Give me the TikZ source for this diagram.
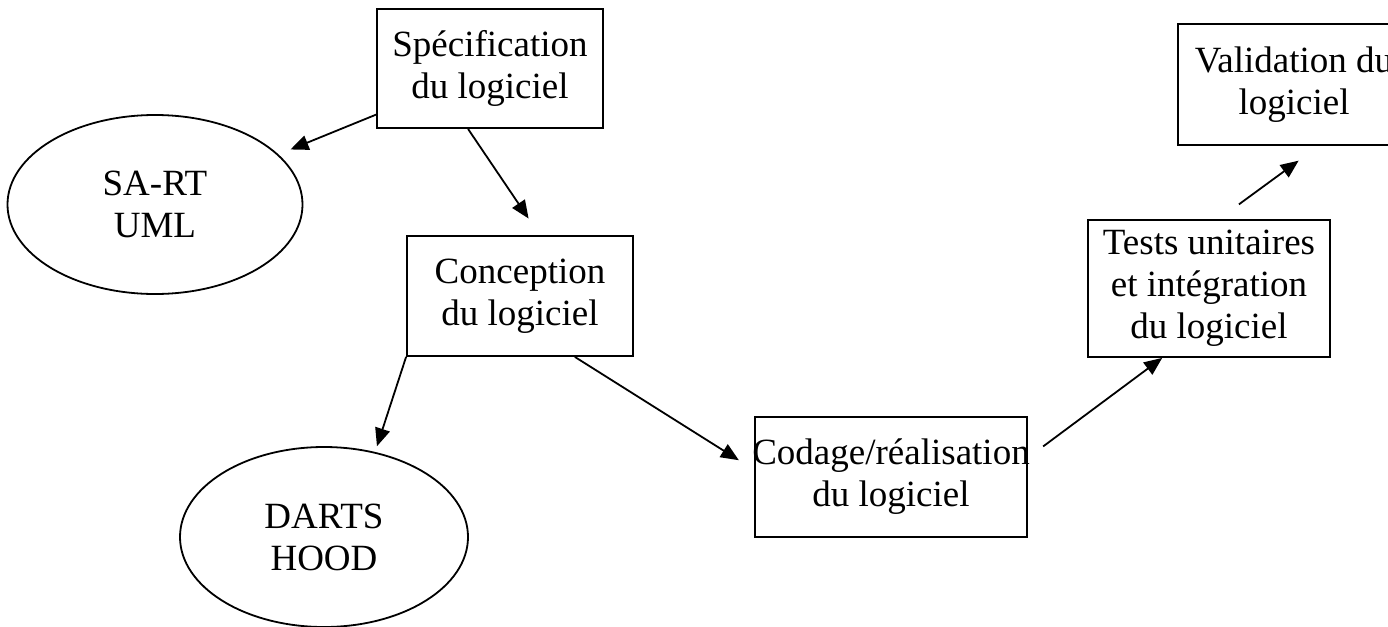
\documentclass[tikz,border=0pt]{standalone}
\usepackage{fontspec}
\setmainfont{Liberation Serif}
\usetikzlibrary{shapes.geometric,arrows.meta}

\begin{document}
\begin{tikzpicture}[x=1pt, y=-1pt, line width=1.8pt,
    every node/.style={font=\fontsize{37}{42}\selectfont, inner sep=0pt, align=center},
    box/.style={draw, rectangle},
    oval/.style={draw, ellipse},
    arr/.style={-{Triangle[length=18pt,width=15pt]}}]
    % Page frame
    \useasboundingbox (0,0) rectangle (1388,626);
    \clip (0,0) rectangle (1388,626);

    % Stages of the cycle
    \node[box, minimum width=226pt, minimum height=119pt] (spec) at (490,68.5) {Spécification\\du logiciel};
    \node[box, minimum width=226pt, minimum height=120pt] (concep) at (520,296) {Conception\\du logiciel};
    \node[box, minimum width=272pt, minimum height=120pt, inner xsep=-3pt] (codage) at (891,477) {Codage/réalisation\\du logiciel};
    \node[box, minimum width=242pt, minimum height=137pt] (tests) at (1209,288.5) {Tests unitaires\\et intégration\\du logiciel};
    \node[box, minimum width=232pt, minimum height=121pt] (valid) at (1294,84.5) {Validation du\\logiciel};

    % Methods
    \node[oval, minimum width=295pt, minimum height=179pt] (sart) at (155,204.5) {SA-RT\\UML};
    \node[oval, minimum width=288pt, minimum height=180pt] (dart) at (324,537) {DARTS\\HOOD};

    % Arrows: from/to/gap at start/gap at end
    \foreach \a/\b/\s/\e in {spec/sart/0pt/13pt, spec.250/concep.72/0pt/20pt,
        concep.south west/dart.59/0pt/6pt, concep.312/codage.177/0pt/18pt,
        codage.8/tests.236/19pt/0pt, tests.82/valid.292/25pt/25pt} {
      \draw[arr, shorten <=\s, shorten >=\e] (\a) -- (\b);
    }
\end{tikzpicture}
\end{document}
